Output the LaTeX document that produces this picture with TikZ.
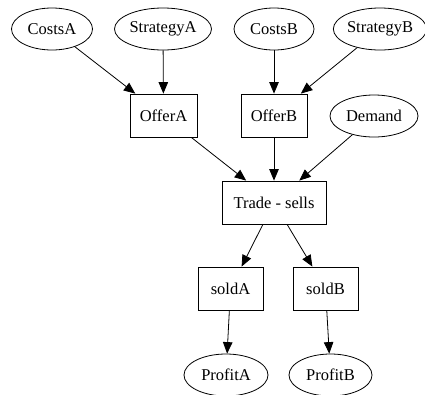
\documentclass[tikz,border=0pt]{standalone}
\usepackage{fontspec}
\setmainfont{Liberation Serif}
\usetikzlibrary{shapes.geometric,arrows.meta}
\begin{document}
\begin{tikzpicture}[x=1pt,y=-1pt,
  every node/.style={font=\fontsize{16.5}{18}\selectfont, inner sep=0pt, draw, line width=0.8pt},
  ell/.style={ellipse, minimum height=42pt},
  box/.style={rectangle, minimum height=43pt},
  arr/.style={-{Triangle[length=11.5pt,width=9.5pt]}, line width=0.8pt}]
\useasboundingbox (0,0) rectangle (425,394);
\node[ell, minimum width=81pt] (costsA) at (52,29) {CostsA};
\node[ell, minimum width=97pt] (stratA) at (163,29) {StrategyA};
\node[ell, minimum width=80pt] (costsB) at (274,29) {CostsB};
\node[ell, minimum width=89pt] (stratB) at (380,29) {StrategyB};
\node[box, minimum width=67pt] (offerA) at (163.5,115.5) {OfferA};
\node[box, minimum width=66pt] (offerB) at (274,115.5) {OfferB};
\node[ell, minimum width=88pt] (demand) at (374,116) {Demand};
\node[box, minimum width=104pt] (trade) at (274,202.5) {Trade - sells};
\node[box, minimum width=65pt] (soldA) at (230.5,288.5) {soldA};
\node[box, minimum width=65pt] (soldB) at (325.5,288.5) {soldB};
\node[ell, minimum width=84pt] (profitA) at (226,375) {ProfitA};
\node[ell, minimum width=83pt] (profitB) at (330.5,375) {ProfitB};
\draw[arr] (costsA) -- (offerA);
\draw[arr] (stratA) -- (offerA);
\draw[arr] (costsB) -- (offerB);
\draw[arr] (stratB) -- (offerB);
\draw[arr] (offerA) -- (trade);
\draw[arr] (offerB) -- (trade);
\draw[arr] (demand) -- (trade);
\draw[arr] (trade) -- (soldA);
\draw[arr] (trade) -- (soldB);
\draw[arr] (soldA) -- (profitA);
\draw[arr] (soldB) -- (profitB);
\end{tikzpicture}
\end{document}
